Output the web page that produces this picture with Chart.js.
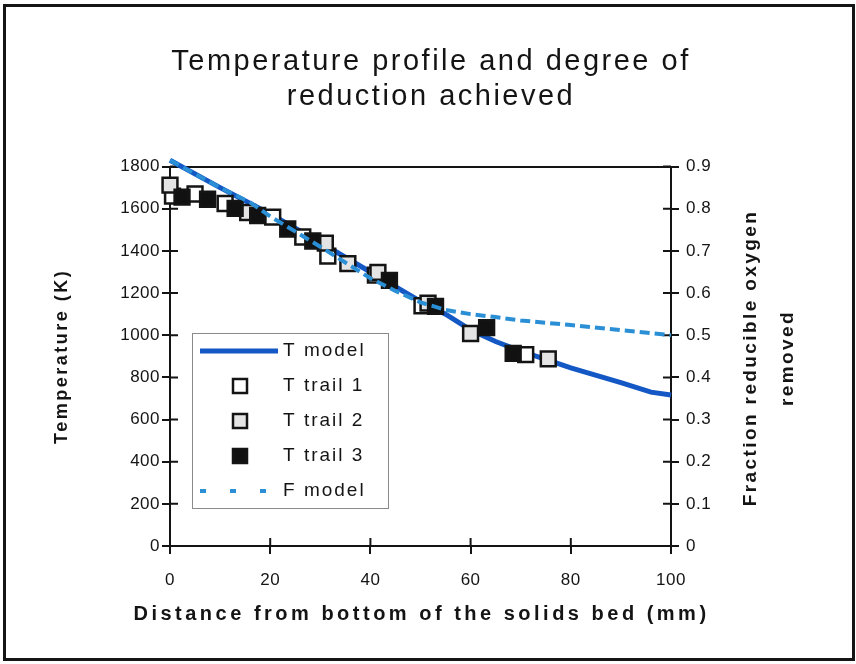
<!DOCTYPE html>
<html>
<head>
<meta charset="utf-8">
<title>Temperature profile and degree of reduction achieved</title>
<script src="https://cdn.jsdelivr.net/npm/chart.js@4.4.0/dist/chart.umd.min.js"></script>
<style>
  html, body { margin: 0; padding: 0; background: #fff; }
  #wrap { position: relative; width: 856px; height: 664px; }
  #frame { position: absolute; left: 3px; top: 4px; width: 852px; height: 657px; box-sizing: border-box; border: 3px solid #151515; pointer-events: none; }
  #chart { position: absolute; left: 0; top: 0; }
</style>
</head>
<body>
<div id="wrap">
  <canvas id="chart" width="856" height="664"></canvas>
  <div id="frame"></div>
</div>
<script>
// distances are mm from the bottom of the solids bed
const modelDist = [0, 10, 20, 30, 40, 50, 55, 60, 65, 70, 75, 80, 90, 96, 100];
const tModel = [1830, 1700, 1575, 1440, 1300, 1160, 1100, 1025, 970, 925, 885, 845, 775, 730, 716];

const fModelDist = [0, 10, 16, 20, 30, 40, 45, 50, 55, 60, 65, 70, 80, 90, 100];
const fModel = [0.915, 0.85, 0.815, 0.782, 0.71, 0.635, 0.605, 0.578, 0.56, 0.55, 0.543, 0.535, 0.524, 0.512, 0.5];

const trail1Dist = [0.5, 5, 11, 20.5, 26.5, 31.5, 41, 50.3, 71];
const trail1T = [1660, 1670, 1625, 1560, 1466, 1375, 1285, 1140, 908];
const trail2Dist = [0, 15.5, 31, 35.5, 41.5, 51.5, 60, 75.5];
const trail2T = [1712, 1582, 1437, 1340, 1298, 1152, 1008, 888];
const trail3Dist = [2.4, 7.5, 13, 17.5, 23.5, 28.5, 43.8, 53, 63.2, 68.5];
const trail3T = [1655, 1645, 1602, 1568, 1504, 1447, 1260, 1137, 1036, 914];

const distTicks = [0, 20, 40, 60, 80, 100];
const tempTicks = [0, 200, 400, 600, 800, 1000, 1200, 1400, 1600, 1800];
const fracTicks = [0, 0.1, 0.2, 0.3, 0.4, 0.5, 0.6, 0.7, 0.8, 0.9];

const INK = "#141414";
const FONT = '"Liberation Sans", Arial, Helvetica, sans-serif';

function pairs(xs, ys) {
  return xs.map((x, i) => ({ x, y: ys[i] }));
}

function setTicks(list) {
  return (scale) => {
    scale.ticks = list.map((v) => ({ value: v }));
  };
}

Chart.defaults.font.family = FONT;
Chart.defaults.color = INK;

// little marks on the inner side of every axis
const innerTicks = {
  id: "innerTicks",
  beforeDatasetsDraw(chart) {
    const { ctx, chartArea, scales } = chart;
    ctx.save();
    ctx.strokeStyle = INK;
    ctx.lineWidth = 2;
    ctx.beginPath();
    scales.x.ticks.forEach((t) => {
      const px = scales.x.getPixelForValue(t.value);
      ctx.moveTo(px, chartArea.bottom);
      ctx.lineTo(px, chartArea.bottom - 8);
    });
    scales.y.ticks.forEach((t) => {
      const py = scales.y.getPixelForValue(t.value);
      ctx.moveTo(chartArea.left, py);
      ctx.lineTo(chartArea.left + 8, py);
    });
    scales.y1.ticks.forEach((t) => {
      const py = scales.y1.getPixelForValue(t.value);
      ctx.moveTo(chartArea.right, py);
      ctx.lineTo(chartArea.right - 8, py);
    });
    ctx.stroke();
    ctx.restore();
  },
};

// wide lettering for the headings, tighter for tick numbers
// (tick labels sit on layer z:1, i.e. after the datasets)
const spacedText = {
  id: "spacedText",
  beforeDraw(chart) {
    chart.ctx.letterSpacing = "2.5px";
  },
  afterDatasetsDraw(chart) {
    chart.ctx.letterSpacing = "0.5px";
  },
};

// x title and the two-line right title (reads bottom to top)
const axisTitles = {
  id: "axisTitles",
  afterDraw(chart) {
    const ctx = chart.ctx;
    const area = chart.chartArea;
    ctx.save();
    ctx.fillStyle = INK;
    ctx.textAlign = "center";
    ctx.textBaseline = "middle";

    ctx.letterSpacing = "3.5px";
    ctx.font = "bold 20px " + FONT;
    ctx.fillText("Distance from bottom of the solids bed (mm)", (area.left + area.right) / 2 + 1, 614);

    const lines = ["Fraction reducible oxygen", "removed"];
    ctx.letterSpacing = "2.4px";
    ctx.font = "bold 19px " + FONT;
    lines.forEach((txt, i) => {
      ctx.save();
      ctx.translate(751 + i * 37, 358);
      ctx.rotate(-Math.PI / 2);
      ctx.fillText(txt, 0, 0);
      ctx.restore();
    });
    ctx.restore();
  },
};

// boxed legend inside the plot
const boxLegend = {
  id: "boxLegend",
  afterDraw(chart) {
    const ctx = chart.ctx;
    const box = { x: 192, y: 333, w: 196, h: 175 };
    ctx.save();
    ctx.fillStyle = "#fff";
    ctx.fillRect(box.x, box.y, box.w, box.h);
    ctx.strokeStyle = "#8a8a8a";
    ctx.lineWidth = 1;
    ctx.strokeRect(box.x + 0.5, box.y + 0.5, box.w, box.h);
    ctx.letterSpacing = "2px";
    ctx.font = "19px " + FONT;
    ctx.textBaseline = "middle";
    chart.data.datasets.forEach((ds, row) => {
      const y = 351 + row * 35;
      if (ds.showLine) {
        ctx.beginPath();
        ctx.strokeStyle = ds.borderColor;
        ctx.lineWidth = ds.borderWidth;
        ctx.setLineDash(ds.borderDash ? [6, 24] : []);
        ctx.moveTo(200, y);
        ctx.lineTo(278, y);
        ctx.stroke();
        ctx.setLineDash([]);
      } else {
        const s = 7;
        ctx.fillStyle = ds.pointBackgroundColor;
        ctx.fillRect(240 - s, y - s, 2 * s, 2 * s);
        ctx.strokeStyle = ds.pointBorderColor;
        ctx.lineWidth = 2.5;
        ctx.strokeRect(240 - s, y - s, 2 * s, 2 * s);
      }
      ctx.fillStyle = INK;
      ctx.fillText(ds.label, 283, y);
    });
    ctx.restore();
  },
};

function markerSet(label, dist, temps, fill, order) {
  return {
    label,
    data: pairs(dist, temps),
    yAxisID: "y",
    showLine: false,
    pointStyle: "rect",
    pointRadius: 10.5,
    pointBorderWidth: 2.5,
    pointBackgroundColor: fill,
    pointBorderColor: INK,
    clip: false,
    order,
  };
}

const tickFont = { size: 17 };

new Chart(document.getElementById("chart"), {
  type: "scatter",
  data: {
    datasets: [
      {
        label: "T model",
        data: pairs(modelDist, tModel),
        yAxisID: "y",
        showLine: true,
        borderColor: "#1358c4",
        borderWidth: 5,
        pointRadius: 0,
        clip: false,
        order: 4,
      },
      markerSet("T trail 1", trail1Dist, trail1T, "#ffffff", 3),
      markerSet("T trail 2", trail2Dist, trail2T, "#e4e4e4", 2),
      markerSet("T trail 3", trail3Dist, trail3T, "#111111", 1),
      {
        label: "F model",
        data: pairs(fModelDist, fModel),
        yAxisID: "y1",
        showLine: true,
        borderColor: "#2b8fd6",
        borderWidth: 4,
        borderDash: [10, 5],
        pointRadius: 0,
        clip: false,
        order: 0,
      },
    ],
  },
  options: {
    responsive: false,
    animation: false,
    layout: { padding: { left: 6, right: 0, top: 0, bottom: 34 } },
    plugins: {
      legend: { display: false },
      tooltip: { enabled: false },
      title: {
        display: true,
        text: ["Temperature profile and degree of", "reduction achieved"],
        font: { size: 29, weight: "normal", lineHeight: 1.2 },
        color: INK,
        padding: { top: 45, bottom: 52 },
      },
    },
    scales: {
      x: {
        type: "linear",
        position: "bottom",
        min: 0,
        max: 100,
        afterBuildTicks: setTicks(distTicks),
        afterFit: (s) => { s.height = 84; },
        grid: { drawOnChartArea: false, tickLength: 8, color: INK, lineWidth: 2 },
        border: { color: INK, width: 2 },
        ticks: { font: tickFont, padding: 16, autoSkip: false, maxRotation: 0, z: 1 },
      },
      y: {
        position: "left",
        min: 0,
        max: 1800,
        afterBuildTicks: setTicks(tempTicks),
        afterFit: (s) => { s.width = 164; },
        grid: {
          tickLength: 8,
          lineWidth: 2,
          tickColor: INK,
          color: (c) => (c.tick && c.tick.value === 1800 ? INK : "rgba(0,0,0,0)"),
        },
        border: { color: INK, width: 2 },
        ticks: { font: tickFont, padding: 2, z: 1, callback: (v) => String(v) },
        title: {
          display: true,
          text: "Temperature (K)",
          font: { size: 18, weight: "bold" },
          padding: { top: 45, bottom: 4 },
        },
      },
      y1: {
        position: "right",
        min: 0,
        max: 0.9,
        afterBuildTicks: setTicks(fracTicks),
        afterFit: (s) => { s.width = 185; },
        grid: { drawOnChartArea: false, tickLength: 8, color: INK, lineWidth: 2 },
        border: { color: INK, width: 2 },
        ticks: {
          font: tickFont,
          padding: 7,
          z: 1,
          callback: (v) => (v === 0 ? "0" : v.toFixed(1)),
        },
      },
    },
  },
  plugins: [spacedText, innerTicks, axisTitles, boxLegend],
});
</script>
</body>
</html>
